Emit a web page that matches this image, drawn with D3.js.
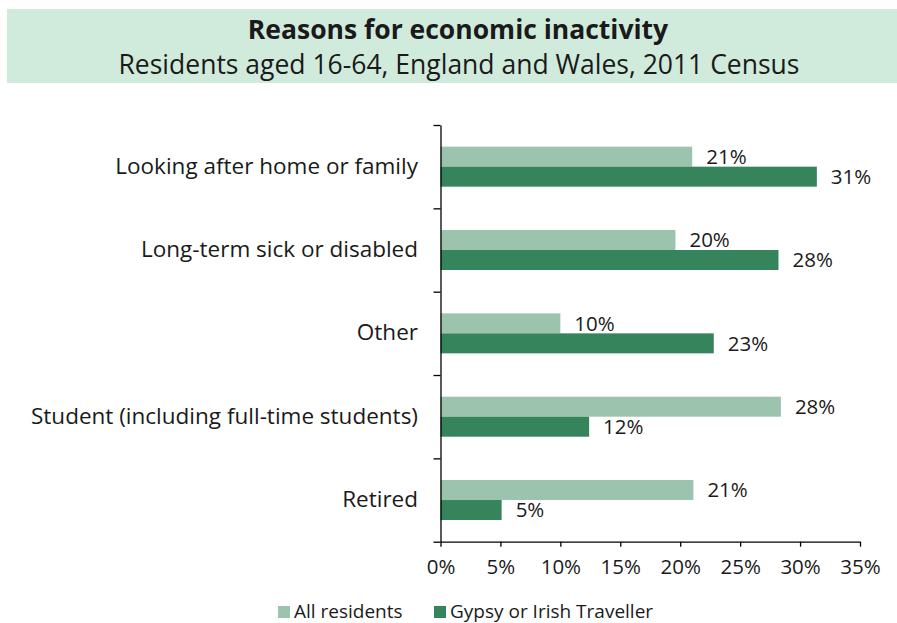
<!DOCTYPE html>
<html>
<head>
<meta charset="utf-8">
<script src="https://cdn.jsdelivr.net/npm/d3@7"></script>
<style>
  body { margin: 0; background: #fff; }
  svg text { font-family: "Open Sans", "Noto Sans", sans-serif; fill: #1a1a1a; }
</style>
</head>
<body>
<svg width="897" height="623"></svg>
<script>
// Data
const categories = [
    "Looking after home or family",
    "Long-term sick or disabled",
    "Other",
    "Student (including full-time students)",
    "Retired"
];
const seriesNames = ["All residents", "Gypsy or Irish Traveller"];
const allResidents = [21.0, 19.6, 10.0, 28.4, 21.1];
const gypsyTraveller = [31.4, 28.2, 22.8, 12.4, 5.1];
const xTicks = [0, 5, 10, 15, 20, 25, 30, 35];
const colors = ["#9cc3ae", "#36845b"];

const svg = d3.select("svg");

// Title box
svg.append("rect")
    .attr("x", 7).attr("y", 9)
    .attr("width", 890).attr("height", 74)
    .attr("fill", "#d0ebdc");
svg.append("text")
    .attr("x", 458).attr("y", 39)
    .attr("text-anchor", "middle")
    .style("font-size", "26.5px").style("font-weight", "bold")
    .text("Reasons for economic inactivity");
svg.append("text")
    .attr("x", 459).attr("y", 74)
    .attr("text-anchor", "middle")
    .style("font-size", "26.5px")
    .text("Residents aged 16-64, England and Wales, 2011 Census");

// Scales
const x = d3.scaleLinear().domain([0, 35]).range([440.5, 860]);
const y = d3.scaleBand().domain(categories).range([125, 541.7]);
const yBorder = d3.scaleLinear().domain([0, categories.length]).range([125, 541.7]);
const inner = d3.scaleBand().domain(seriesNames).range([-20, 20]);

// Bars
const rows = categories.map((c, i) => ({cat: c, vals: [allResidents[i], gypsyTraveller[i]]}));
const groups = svg.append("g").selectAll("g")
    .data(rows)
    .join("g")
    .attr("transform", d => `translate(0,${y(d.cat) + y.bandwidth() / 2})`);

const bars = groups.selectAll("g.bar")
    .data(d => d.vals.map((v, j) => ({name: seriesNames[j], v: v, j: j})))
    .join("g").attr("class", "bar");

bars.append("rect")
    .attr("x", x(0))
    .attr("y", d => inner(d.name))
    .attr("width", d => x(d.v) - x(0))
    .attr("height", inner.bandwidth())
    .attr("fill", d => colors[d.j]);

bars.append("text")
    .attr("x", d => x(d.v) + 14)
    .attr("y", d => inner(d.name) + inner.bandwidth() / 2)
    .attr("dy", "0.35em")
    .style("font-size", "20.5px")
    .text(d => Math.round(d.v) + "%");

// Category labels
svg.append("g").selectAll("text")
    .data(categories)
    .join("text")
    .attr("x", 418)
    .attr("y", d => y(d) + y.bandwidth() / 2 - 1)
    .attr("dy", "0.35em")
    .attr("text-anchor", "end")
    .style("font-size", "22.5px")
    .text(d => d);

// Y axis (ticks between categories)
const yAxis = svg.append("g")
    .attr("transform", `translate(${x(0)},0)`)
    .call(d3.axisLeft(yBorder).ticks(categories.length).tickSize(7).tickSizeOuter(0).tickFormat(""));
yAxis.select(".domain").attr("stroke", "#000").attr("stroke-width", 1.3);
yAxis.selectAll("line").attr("stroke", "#000").attr("stroke-width", 1.3);

// X axis
const xAxis = svg.append("g")
    .attr("transform", `translate(0,541.7)`)
    .call(d3.axisBottom(x).tickValues(xTicks).tickSize(5).tickSizeOuter(0).tickFormat(d => d + "%"));
xAxis.select(".domain").attr("stroke", "#000").attr("stroke-width", 1.3);
xAxis.selectAll("line").attr("stroke", "#000").attr("stroke-width", 1.3);
xAxis.selectAll("text")
    .attr("y", 26).attr("dy", "0.32em")
    .style("font-size", "20.5px").style("fill", "#1a1a1a")
    .style("font-family", "\"Open Sans\", sans-serif");

// Legend
const legendX = [278, 434];
const legend = svg.append("g").selectAll("g")
    .data(seriesNames)
    .join("g")
    .attr("transform", (d, i) => `translate(${legendX[i]},606)`);
legend.append("rect")
    .attr("width", 12).attr("height", 12)
    .attr("fill", (d, i) => colors[i]);
legend.append("text")
    .attr("x", 16).attr("y", 5)
    .attr("dy", "0.35em")
    .style("font-size", "19px")
    .text(d => d);
</script>
</body>
</html>
